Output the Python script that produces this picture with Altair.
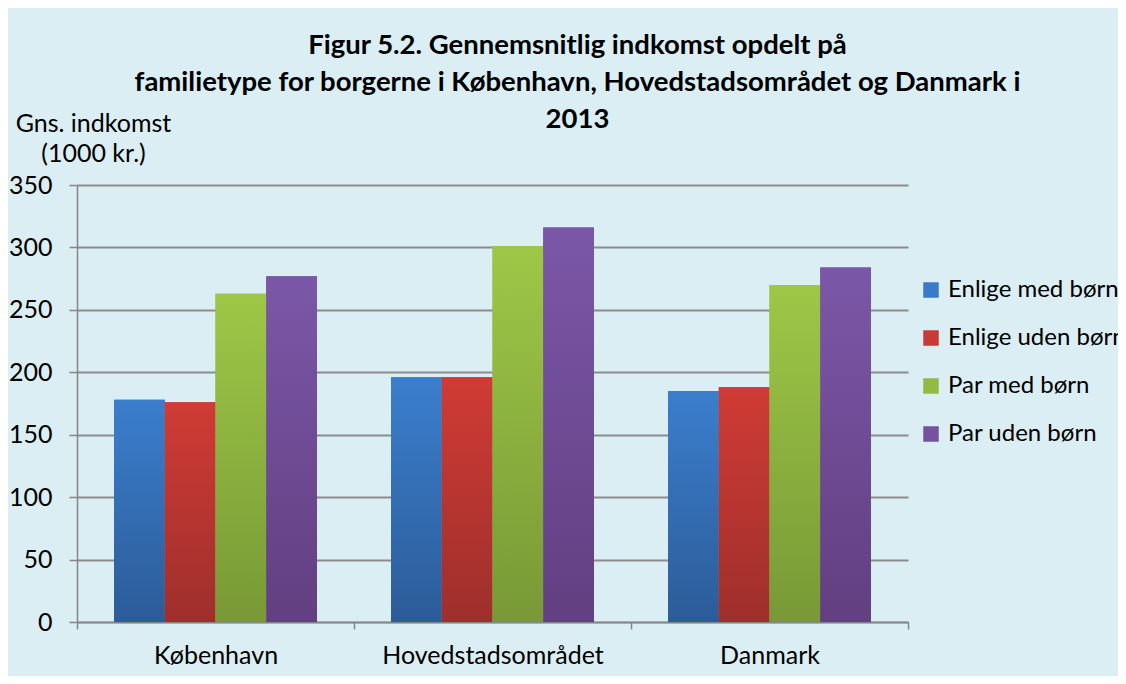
import altair as alt
import pandas as pd

cities = ["København", "Hovedstadsområdet", "Danmark"]
series = ["Enlige med børn", "Enlige uden børn", "Par med børn", "Par uden børn"]
enlige_med_boern = [178, 196, 185]
enlige_uden_boern = [176, 196, 188]
par_med_boern = [263, 301, 270]
par_uden_boern = [277, 316, 284]
y_ticks = [0, 50, 100, 150, 200, 250, 300, 350]

solid = ["#3A7BC8", "#C93A35", "#94BA45", "#74529E"]
grad_top = ["#3B7ECD", "#D03B35", "#9EC747", "#7B57A8"]
grad_bot = ["#2C5C98", "#9E2F2C", "#789936", "#623F80"]

vals = [enlige_med_boern, enlige_uden_boern, par_med_boern, par_uden_boern]
rows = []
for s, v in zip(series, vals):
    for c, x in zip(cities, v):
        rows.append({"city": c, "series": s, "value": x})
df = pd.DataFrame(rows)

FONT = "Lato"
FS = 25

x_enc = alt.X("city:N", sort=cities,
              scale=alt.Scale(paddingInner=0, paddingOuter=0),
              axis=alt.Axis(title=None, labelAngle=0, tickBand="extent", tickSize=7,
                            labelPadding=14, domainColor="#868686", tickColor="#868686",
                            domainWidth=1.5, tickWidth=1.5, labelFontSize=FS,
                            labelFont=FONT, labelColor="#000000", labelLimit=400))
xo_enc = alt.XOffset("series:N", sort=series,
                     scale=alt.Scale(domain=series, paddingInner=0, paddingOuter=0.73))
y_enc = alt.Y("value:Q",
              scale=alt.Scale(domain=[0, 350], nice=False),
              axis=alt.Axis(values=y_ticks, title=["Gns. indkomst", "(1000 kr.)"],
                            titleAngle=0, titleAlign="center", titleX=16, titleY=-49,
                            titleBaseline="bottom", titleFont=FONT, titleFontSize=FS,
                            titleFontWeight="normal", titleLineHeight=30, titleColor="#000000",
                            tickSize=8, labelPadding=17, domainColor="#868686",
                            tickColor="#868686", domainWidth=1.5, tickWidth=1.5,
                            gridColor="#8C8C8C", gridWidth=2, labelFontSize=FS,
                            labelFont=FONT, labelColor="#000000"))

base = alt.Chart(df).mark_bar(strokeWidth=0).encode(
    x=x_enc, xOffset=xo_enc, y=y_enc,
    color=alt.Color("series:N", sort=series,
                    scale=alt.Scale(domain=series, range=solid),
                    legend=alt.Legend(title=None, orient="none", legendX=842, legendY=93,
                                      symbolType="square", symbolSize=240,
                                      symbolStrokeWidth=0, labelFont=FONT,
                                      labelFontSize=24, labelColor="#000000",
                                      rowPadding=24, labelOffset=5, labelLimit=400)),
)

layers = [base]
for s, t, b in zip(series, grad_top, grad_bot):
    grad = alt.LinearGradient(gradient="linear", x1=0, y1=0, x2=0, y2=1,
                              stops=[alt.GradientStop(color=t, offset=0),
                                     alt.GradientStop(color=b, offset=1)])
    layers.append(
        alt.Chart(df).transform_filter(alt.datum.series == s)
        .mark_bar(fill=grad, strokeWidth=0)
        .encode(x=x_enc, xOffset=xo_enc, y=y_enc)
    )

chart = alt.layer(*layers).properties(
    width=831, height=437,
    title=alt.TitleParams(
        text=["Figur 5.2. Gennemsnitlig indkomst opdelt på",
              "familietype for borgerne i København, Hovedstadsområdet og Danmark i",
              "2013"],
        font=FONT, fontSize=27.5, fontWeight="bold", color="#000000",
        anchor="middle", dx=85, dy=22, lineHeight=37, offset=0),
    autosize=alt.AutoSizeParams(type="none"),
    padding={"left": 69, "top": 177, "right": 210, "bottom": 54},
).configure(background="#DAEEF3").configure_view(stroke=None)

chart.save("out.html", embed_options={"renderer": "svg", "actions": False})
